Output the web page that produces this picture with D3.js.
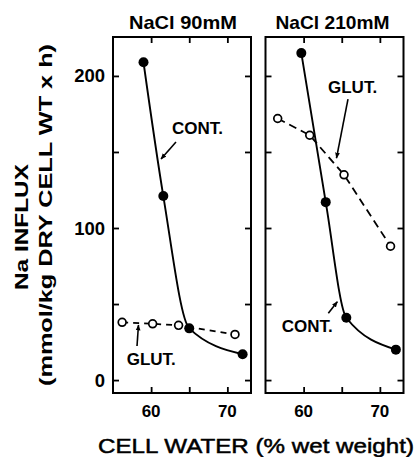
<!DOCTYPE html>
<html><head><meta charset="utf-8">
<script src="https://cdn.jsdelivr.net/npm/d3@7"></script>
<style>
html,body{margin:0;padding:0;background:#fff;}
svg{display:block;}
text{font-family:"Liberation Sans",Arial,Helvetica,sans-serif;fill:#000;}
</style></head>
<body>
<script>
// ---- data ----
const panelTitles = ["NaCl 90mM", "NaCl 210mM"];
const xTicks = [60, 65, 70];
const xTickLabels = [60, 70];
const yTicks = [0, 50, 100, 150, 200];
const yTickLabels = [0, 100, 200];

const cont90X  = [59.0, 61.6, 65.0, 72.0];
const cont90Y  = [209, 121, 34, 17];
const glut90X  = [56.2, 60.2, 63.6, 71.0];
const glut90Y  = [38, 37, 36, 30];

const cont210X = [59.7, 62.9, 65.6, 72.1];
const cont210Y = [215, 117, 41, 20];
const glut210X = [56.6, 60.8, 65.3, 71.4];
const glut210Y = [172, 161, 135, 88];

const xLabel = "CELL WATER (% wet weight)";
const yLabel1 = "Na INFLUX";
const yLabel2 = "(mmol/kg DRY CELL WT x h)";

// ---- layout ----
const W = 418, H = 457;
const topY = 37, bottomY = 393;
const panelW = 138;
const panelLefts = [113, 265.5];

const svg = d3.select("body").append("svg").attr("width", W).attr("height", H);

const y = d3.scaleLinear().domain([-8.5, 225.6]).range([bottomY, topY]);

const zip = (xs, ys) => xs.map((v, i) => ({x: v, y: ys[i]}));

const panels = [
  {cont: zip(cont90X, cont90Y), glut: zip(glut90X, glut90Y)},
  {cont: zip(cont210X, cont210Y), glut: zip(glut210X, glut210Y)}
];

// annotation anchors in data units
const annos = [
  [
    {label: "CONT.", tx: 62.74, ty: 162, fx: 63.26, fy: 156.6, toX: 61.3, toY: 145.4},
    {label: "GLUT.", tx: 56.8, ty: 9.9, fx: 58.15, fy: 22.4, toX: 58.34, toY: 36.2}
  ],
  [
    {label: "GLUT.", tx: 63.2, ty: 188.8, fx: 65.82, fy: 184.8, toX: 64.31, toY: 146.0},
    {label: "CONT.", tx: 57.12, ty: 31.8, fx: 63.24, fy: 43.9, toX: 64.42, toY: 51.5}
  ]
];

svg.append("defs").append("marker")
  .attr("id", "ah").attr("viewBox", "0 0 10 10").attr("refX", 9).attr("refY", 5)
  .attr("markerWidth", 6).attr("markerHeight", 6).attr("orient", "auto-start-reverse")
  .attr("markerUnits", "userSpaceOnUse")
  .append("path").attr("d", "M0,1 L10,5 L0,9 Z").attr("fill", "#000");

panels.forEach((p, i) => {
  const x0 = panelLefts[i];
  const x = d3.scaleLinear().domain([55, 73.1]).range([x0, x0 + panelW]);
  const g = svg.append("g");

  g.append("rect").attr("x", x0).attr("y", topY).attr("width", panelW).attr("height", bottomY - topY)
    .attr("fill", "none").attr("stroke", "#000").attr("stroke-width", 2);

  const tl = 6;
  g.append("g").attr("transform", `translate(0,${bottomY})`)
    .call(d3.axisBottom(x).tickValues(xTicks).tickSize(-tl).tickFormat(""))
    .call(s => s.select(".domain").remove());
  g.append("g").attr("transform", `translate(0,${topY})`)
    .call(d3.axisTop(x).tickValues(xTicks).tickSize(-tl).tickFormat(""))
    .call(s => s.select(".domain").remove());
  g.append("g").attr("transform", `translate(${x0},0)`)
    .call(d3.axisLeft(y).tickValues(yTicks).tickSize(-tl).tickFormat(""))
    .call(s => s.select(".domain").remove());
  g.append("g").attr("transform", `translate(${x0 + panelW},0)`)
    .call(d3.axisRight(y).tickValues(yTicks).tickSize(-tl).tickFormat(""))
    .call(s => s.select(".domain").remove());
  g.selectAll(".tick line").attr("stroke", "#000").attr("stroke-width", 1.8);

  g.selectAll(".xl").data(xTickLabels).enter().append("text")
    .attr("x", d => x(d)).attr("y", 417).attr("text-anchor", "middle")
    .style("font-size", "17px").style("font-weight", "bold").text(d => d);

  if (i === 0) {
    g.selectAll(".yl").data(yTickLabels).enter().append("text")
      .attr("x", 105).attr("y", d => y(d) + 6.5).attr("text-anchor", "end")
      .style("font-size", "18.5px").style("font-weight", "bold").text(d => d);
  }

  g.append("text").attr("x", x0 + panelW / 2 + (i === 0 ? 1 : -2)).attr("y", 28.5)
    .attr("text-anchor", "middle").attr("textLength", i === 0 ? 108 : 114)
    .attr("lengthAdjust", "spacingAndGlyphs")
    .style("font-size", "19px").style("font-weight", "bold")
    .text(panelTitles[i]);

  g.append("path").datum(p.glut)
    .attr("d", d3.line().x(d => x(d.x)).y(d => y(d.y)))
    .attr("fill", "none").attr("stroke", "#000").attr("stroke-width", 1.8)
    .attr("stroke-dasharray", i === 0 ? "6,5" : "8,5");

  g.append("path").datum(p.cont)
    .attr("d", d3.line().x(d => x(d.x)).y(d => y(d.y)).curve(d3.curveMonotoneX))
    .attr("fill", "none").attr("stroke", "#000").attr("stroke-width", 1.9);

  g.selectAll(".oc").data(p.glut).enter().append("circle")
    .attr("cx", d => x(d.x)).attr("cy", d => y(d.y)).attr("r", 3.9)
    .attr("fill", "#fff").attr("stroke", "#000").attr("stroke-width", 1.7);

  g.selectAll(".fc").data(p.cont).enter().append("circle")
    .attr("cx", d => x(d.x)).attr("cy", d => y(d.y)).attr("r", 5)
    .attr("fill", "#000");

  annos[i].forEach(a => {
    g.append("text").attr("x", x(a.tx)).attr("y", y(a.ty)).style("font-size", "17px")
      .style("font-weight", "bold").text(a.label);
    g.append("line").attr("x1", x(a.fx)).attr("y1", y(a.fy)).attr("x2", x(a.toX)).attr("y2", y(a.toY))
      .attr("stroke", "#000").attr("stroke-width", 1.6).attr("marker-end", "url(#ah)");
  });
});

svg.append("text").attr("x", 256).attr("y", 453).attr("text-anchor", "middle")
  .attr("textLength", 316).attr("lengthAdjust", "spacingAndGlyphs")
  .attr("stroke", "#000").attr("stroke-width", 0.5)
  .style("font-size", "21px").text(xLabel);

svg.append("text").attr("transform", "translate(28,227) rotate(-90)").attr("text-anchor", "middle")
  .attr("textLength", 126).attr("lengthAdjust", "spacingAndGlyphs")
  .style("font-size", "19px").style("font-weight", "bold").text(yLabel1);
svg.append("text").attr("transform", "translate(52,215) rotate(-90)").attr("text-anchor", "middle")
  .attr("textLength", 342).attr("lengthAdjust", "spacingAndGlyphs")
  .style("font-size", "19px").style("font-weight", "bold").text(yLabel2);
</script>
</body></html>
